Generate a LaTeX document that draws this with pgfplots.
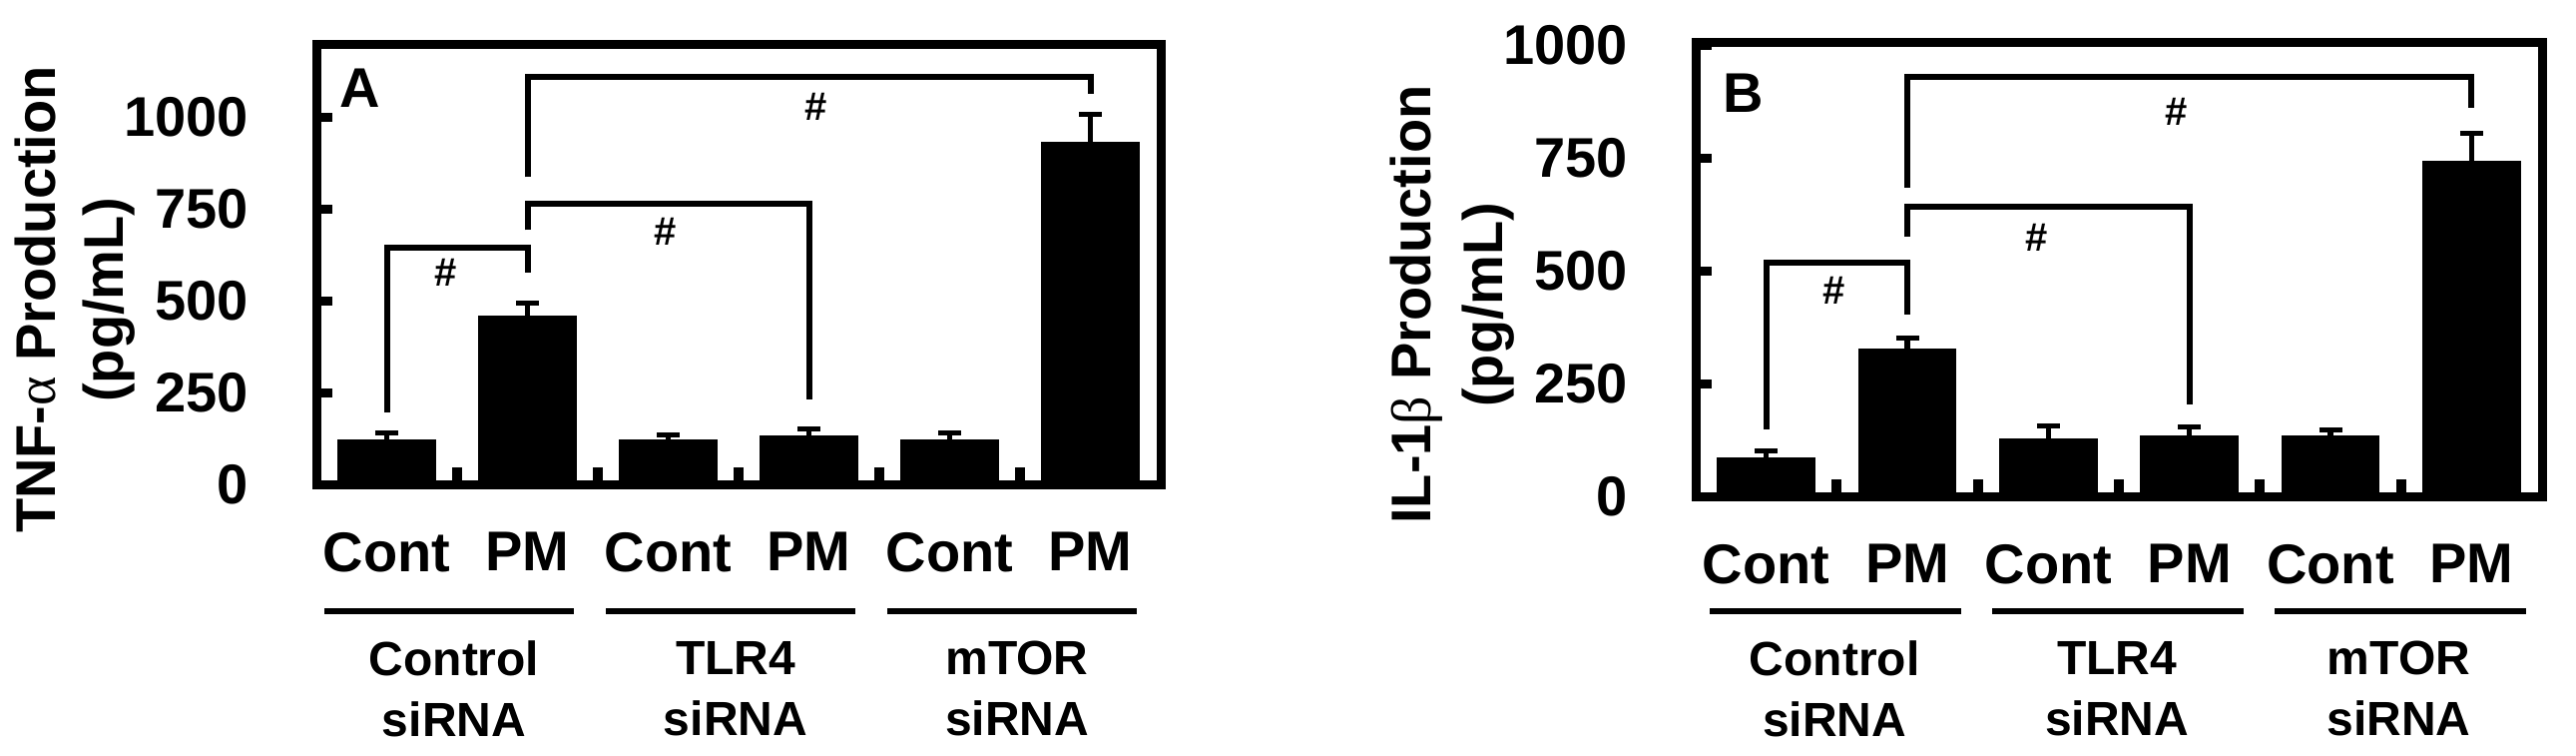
\documentclass[border=0pt]{standalone}
\usepackage{fontspec}
\setmainfont{Liberation Sans}
\newfontfamily\grk{Liberation Serif}
\usepackage{pgfplots}
\pgfplotsset{compat=1.18}
\begin{document}
\begin{tikzpicture}
\path[use as bounding box] (0,0) rectangle (516.2pt,151.2pt);
\pgfplotsset{
  panel/.style={
    scale only axis, anchor=south west, clip=false,
    xmin=-0.5, xmax=5.5, ymin=0,
    axis line style={line width=1.8pt, line join=miter},
    tick align=inside, xtick pos=bottom, ytick pos=left,
    ytick={0,250,500,750,1000},
    xtick={0,...,5}, xticklabels={Cont,PM,Cont,PM,Cont,PM},
    major x tick style={draw=none},
    minor xtick={0.5,1.5,2.5,3.5,4.5},
    major tick length=3.2pt, minor tick length=3.4pt,
    tick style={black, line width=1.8pt},
    minor tick style={line width=2pt},
    /pgf/number format/assume math mode=true,
    /pgf/number format/1000 sep={},
    tick label style={font=\bfseries\fontsize{11.2}{13}\selectfont},
    yticklabel style={anchor=east, inner sep=0pt, xshift=-13.4pt},
    xticklabel style={anchor=north, inner sep=0pt, yshift=-9.4pt},
  },
  bars/.style={ybar, bar width=0.69, fill=black, draw=black, line width=0.2pt,
    error bars/.cd, y dir=plus, y explicit,
    error bar style={line width=1.1pt, black},
    error mark options={rotate=90, line width=1pt, mark size=2.3pt, black}},
  bracket/.style={black, line width=1.2pt, mark=none, line join=miter},
}
% Panel A
\begin{axis}[panel, at={(63.4pt,54.2pt)}, width=169.2pt, height=88.2pt, ymax=1200]
\addplot[bars] coordinates {(0,120) +- (0,21) (1,459) +- (0,36) (2,120) +- (0,16) (3,133) +- (0,19) (4,120) +- (0,21) (5,932) +- (0,76)};
\addplot[bracket] coordinates {(0,196) (0,644) (1,644) (1,576)};
\addplot[bracket] coordinates {(1,693) (1,766) (3,766) (3,231)};
\addplot[bracket] coordinates {(1,837) (1,1109) (5,1109) (5,1065)};
\node[font=\bfseries\fontsize{8}{9}\selectfont] at (axis cs:0.42,576) {\#};
\node[font=\bfseries\fontsize{8}{9}\selectfont] at (axis cs:1.98,690) {\#};
\node[font=\bfseries\fontsize{8}{9}\selectfont] at (axis cs:3.05,1030) {\#};
\node[font=\bfseries\fontsize{11.2}{13}\selectfont] at (axis cs:-0.19,1079) {A};
\end{axis}
% Panel B
\begin{axis}[panel, at={(339.8pt,51.8pt)}, width=169.6pt, height=91pt, ymax=1007]
\addplot[bars] coordinates {(0,86) +- (0,14) (1,327) +- (0,23) (2,128) +- (0,29) (3,135) +- (0,18) (4,135) +- (0,13) (5,743) +- (0,62)};
\addplot[bracket] coordinates {(0,148) (0,518) (1,518) (1,403)};
\addplot[bracket] coordinates {(1,575) (1,642) (3,642) (3,204)};
\addplot[bracket] coordinates {(1,684) (1,929) (5,929) (5,861)};
\node[font=\bfseries\fontsize{8}{9}\selectfont] at (axis cs:0.48,456) {\#};
\node[font=\bfseries\fontsize{8}{9}\selectfont] at (axis cs:1.92,573) {\#};
\node[font=\bfseries\fontsize{8}{9}\selectfont] at (axis cs:2.91,852) {\#};
\node[font=\bfseries\fontsize{11.2}{13}\selectfont] at (axis cs:-0.16,894) {B};
\end{axis}
% y labels
\node[rotate=90, anchor=north, inner sep=0pt, align=center, font=\bfseries\fontsize{11.2}{13.6}\selectfont] at (2.8pt,91.2pt) {TNF-{\grk\mdseries α} Production\\(pg/mL)};
\node[rotate=90, anchor=north, inner sep=0pt, align=center, font=\bfseries\fontsize{11.2}{14.4}\selectfont] at (278.4pt,90.2pt) {IL-1{\grk\mdseries β} Production\\(pg/mL)};
% group lines
\foreach \a/\b in {65.0/115.0, 121.4/171.4, 177.8/227.8, 342.6/393.0, 399.2/449.6, 455.8/506.2}
  \draw[line width=1.3pt] (\a pt,28.8pt) -- (\b pt,28.8pt);
% group labels
\foreach \x/\t in {91.0/Control, 147.4/TLR4, 203.8/mTOR, 367.6/Control, 424.2/TLR4, 480.7/mTOR}
  \node[anchor=north, inner sep=0pt, align=center, font=\bfseries\fontsize{9.6}{12.2}\selectfont] at (\x pt,23pt) {\t\\siRNA};
\end{tikzpicture}
\end{document}
